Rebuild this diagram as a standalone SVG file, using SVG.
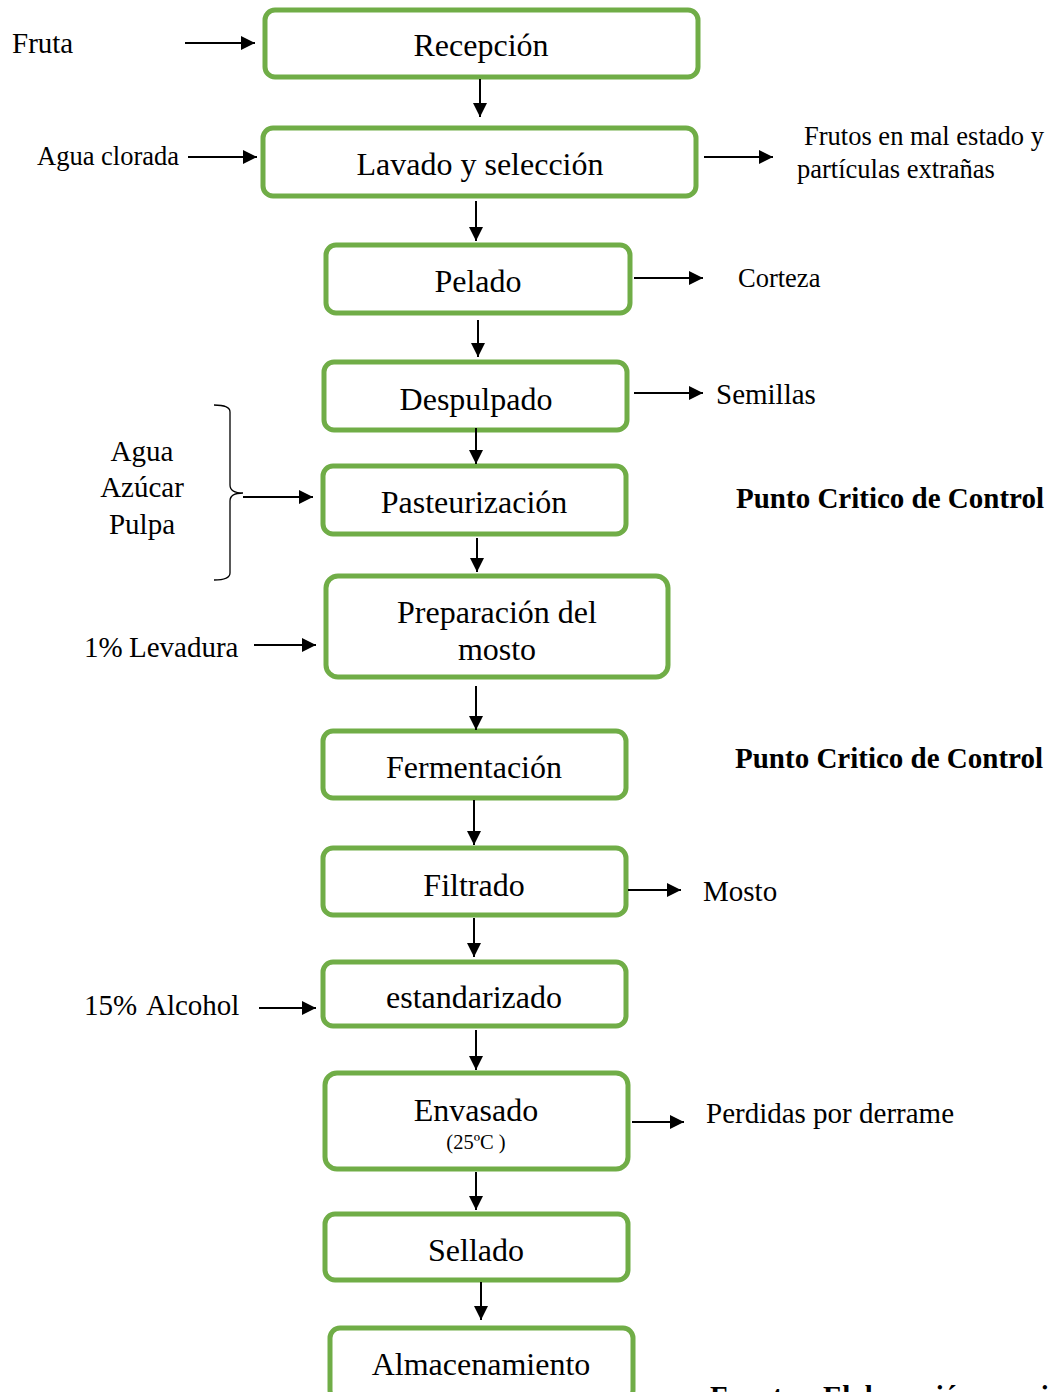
<svg xmlns="http://www.w3.org/2000/svg" width="1057" height="1392" viewBox="0 0 1057 1392">
  <style>
    .box { fill: #ffffff; stroke: #70ad47; stroke-width: 5; }
    .t { font-family: "Liberation Serif", "Times New Roman", serif; fill: #000; }
    .c { text-anchor: middle; font-size: 32px; }
    .lbl { font-size: 29px; }
    .sm { font-size: 26.5px; }
    .b { font-weight: bold; font-size: 29px; }
    .ln { stroke: #000; stroke-width: 2; fill: none; }
  </style>
  <defs>
    <marker id="ah" viewBox="0 0 10 10" refX="10" refY="5" markerWidth="14" markerHeight="14" markerUnits="userSpaceOnUse" orient="auto">
      <path d="M0,0 L10,5 L0,10 z" fill="#000"/>
    </marker>
  </defs>
  <rect width="1057" height="1392" fill="#ffffff"/>

  <!-- process steps -->
  <g id="recepcion"><rect class="box" x="265" y="10" width="433" height="67" rx="10"/><text class="t c" x="481" y="56">Recepción</text></g>
  <g id="lavado"><rect class="box" x="263" y="128" width="433" height="68" rx="10"/><text class="t c" x="480" y="175">Lavado y selección</text></g>
  <g id="pelado"><rect class="box" x="326" y="245" width="304" height="68" rx="10"/><text class="t c" x="478" y="292">Pelado</text></g>
  <g id="despulpado"><rect class="box" x="324" y="362" width="303" height="68" rx="10"/><text class="t c" x="476" y="410">Despulpado</text></g>
  <g id="pasteurizacion"><rect class="box" x="323" y="466" width="303" height="68" rx="10"/><text class="t c" x="474" y="513">Pasteurización</text></g>
  <g id="preparacion"><rect class="box" x="326" y="576" width="342" height="101" rx="12"/><text class="t c" x="497" y="623">Preparación del</text><text class="t c" x="497" y="660">mosto</text></g>
  <g id="fermentacion"><rect class="box" x="323" y="731" width="303" height="67" rx="10"/><text class="t c" x="474" y="778">Fermentación</text></g>
  <g id="filtrado"><rect class="box" x="323" y="848" width="303" height="67" rx="10"/><text class="t c" x="474" y="896">Filtrado</text></g>
  <g id="estandarizado"><rect class="box" x="323" y="962" width="303" height="64" rx="10"/><text class="t c" x="474" y="1008">estandarizado</text></g>
  <g id="envasado"><rect class="box" x="325" y="1073" width="303" height="96" rx="12"/><text class="t c" x="476" y="1121">Envasado</text><text class="t" x="476" y="1149" text-anchor="middle" font-size="20.5">(25ºC )</text></g>
  <g id="sellado"><rect class="box" x="325" y="1214" width="303" height="66" rx="10"/><text class="t c" x="476" y="1261">Sellado</text></g>
  <g id="almacenamiento"><rect class="box" x="330" y="1328" width="303" height="72" rx="10"/><text class="t c" x="481" y="1375">Almacenamiento</text></g>

  <!-- inputs, outputs and notes -->
  <g id="labels">
    <text class="t lbl" x="12" y="53">Fruta</text>
    <text class="t sm" x="37" y="165">Agua clorada</text>
    <text class="t sm" x="804" y="145">Frutos en mal estado y</text>
    <text class="t sm" x="797" y="178">partículas extrañas</text>
    <text class="t sm" x="738" y="287">Corteza</text>
    <text class="t lbl" x="716" y="404">Semillas</text>
    <text class="t lbl" x="142" y="461" text-anchor="middle">Agua</text>
    <text class="t lbl" x="142" y="497" text-anchor="middle">Azúcar</text>
    <text class="t lbl" x="142" y="534" text-anchor="middle">Pulpa</text>
    <text class="t b" x="736" y="508">Punto Critico de Control</text>
    <text class="t lbl" x="84" y="657">1% <tspan x="129">Levadura</tspan></text>
    <text class="t b" x="735" y="768">Punto Critico de Control</text>
    <text class="t lbl" x="703" y="901">Mosto</text>
    <text class="t lbl" x="84" y="1015">15% <tspan x="146">Alcohol</tspan></text>
    <text class="t lbl" x="706" y="1123">Perdidas por derrame</text>
    <text class="t b" x="710" y="1406">Fuente: <tspan x="823">Elaboración propia</tspan></text>
  </g>

  <!-- connectors -->
  <g id="connectors" class="ln">
    <path class="ln" d="M480,79 V117" marker-end="url(#ah)"/>
    <path class="ln" d="M476,201 V241" marker-end="url(#ah)"/>
    <path class="ln" d="M478,320 V357" marker-end="url(#ah)"/>
    <path class="ln" d="M476,428 V464" marker-end="url(#ah)"/>
    <path class="ln" d="M477,538 V572" marker-end="url(#ah)"/>
    <path class="ln" d="M476,686 V730" marker-end="url(#ah)"/>
    <path class="ln" d="M474,800 V845" marker-end="url(#ah)"/>
    <path class="ln" d="M474,918 V957" marker-end="url(#ah)"/>
    <path class="ln" d="M476,1030 V1070" marker-end="url(#ah)"/>
    <path class="ln" d="M476,1172 V1210" marker-end="url(#ah)"/>
    <path class="ln" d="M481,1282 V1320" marker-end="url(#ah)"/>

    <path class="ln" d="M185,43 H255" marker-end="url(#ah)"/>
    <path class="ln" d="M188,157 H257" marker-end="url(#ah)"/>
    <path class="ln" d="M704,157 H773" marker-end="url(#ah)"/>
    <path class="ln" d="M634,278 H703" marker-end="url(#ah)"/>
    <path class="ln" d="M634,393 H703" marker-end="url(#ah)"/>
    <path class="ln" d="M243,497 H313" marker-end="url(#ah)"/>
    <path class="ln" d="M254,645 H316" marker-end="url(#ah)"/>
    <path class="ln" d="M628,890 H681" marker-end="url(#ah)"/>
    <path class="ln" d="M259,1008 H316" marker-end="url(#ah)"/>
    <path class="ln" d="M632,1122 H684" marker-end="url(#ah)"/>

    <!-- brace grouping the ingredients -->
    <path d="M214,405 Q230,405 230,412 V485 Q230,493 243,493 Q230,493 230,501 V573 Q230,580 214,580" stroke="#000" stroke-width="1.3" fill="none"/>
  </g>
</svg>
